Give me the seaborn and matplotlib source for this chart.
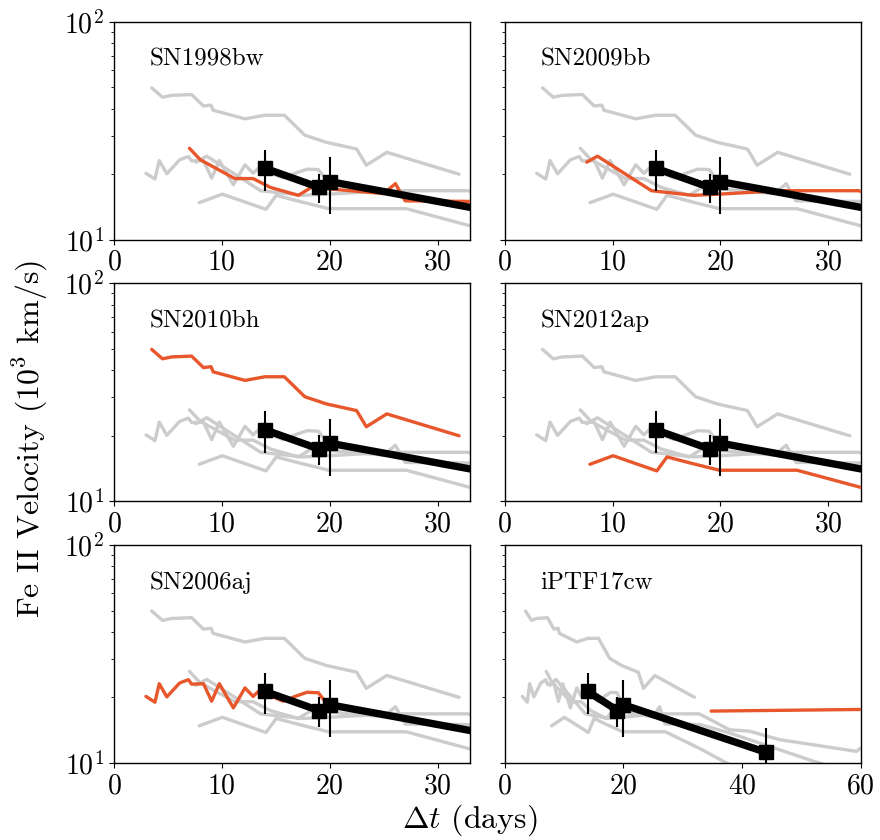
import numpy as np
import matplotlib
matplotlib.use("Agg")
import matplotlib.pyplot as plt
import matplotlib.ticker as mticker
import seaborn as sns
import pandas as pd

# comparison SNe: Fe II velocity (1e3 km/s) vs days
sn1998bw_t = [7.0, 8.0, 11.2, 12.9, 14.5, 17.1, 18.3, 25.0, 26.1, 27.0, 33.0, 38.0, 42.0, 52.0, 56.0]
sn1998bw_v = [26.3, 23.3, 19.1, 19.1, 17.4, 16.0, 17.4, 16.3, 18.1, 15.1, 15.0, 13.7, 12.6, 10.2, 9.5]

sn2009bb_t = [7.6, 8.6, 13.6, 17.5, 19.9, 25.5, 32.8, 37.9, 41.2, 46.3, 59.3, 60.0]
sn2009bb_v = [22.7, 24.2, 16.8, 16.0, 16.2, 16.8, 16.8, 14.2, 14.0, 12.8, 11.3, 11.7]

sn2010bh_t = [3.5, 4.5, 5.35, 7.2, 8.3, 9.0, 9.2, 12.15, 14.0, 15.8, 17.7, 19.7, 22.5, 23.4, 25.3, 32.0]
sn2010bh_v = [49.8, 45.1, 46.0, 46.4, 41.1, 41.5, 39.3, 35.9, 37.3, 37.3, 30.2, 28.0, 26.1, 22.0, 25.2, 20.0]

sn2012ap_t = [7.9, 10.05, 14.1, 15.05, 17.2, 19.9, 27.1, 33.0, 38.0]
sn2012ap_v = [14.8, 16.2, 13.8, 16.0, 15.0, 13.9, 13.9, 11.6, 9.8]

sn2006aj_t = [2.97, 3.8, 4.2, 4.9, 6.1, 6.9, 7.2, 8.3, 9.06, 9.77, 11.07, 12.15, 12.9, 13.4, 14.0,
              15.7, 16.8, 17.9, 18.95, 19.7]
sn2006aj_v = [20.2, 19.0, 23.1, 20.1, 23.3, 24.1, 23.0, 23.1, 19.2, 23.1, 17.9, 22.1, 20.2, 21.3, 20.8,
              19.2, 20.2, 21.1, 21.0, 18.8]

iptf17cw_t = [34.8, 60.0]
iptf17cw_v = [17.3, 17.6]

# the object measured here
obj_t = [14, 19, 20, 44]
obj_v = [21.3, 17.4, 18.5, 11.2]
obj_err = [4.6, 2.7, 5.4, 3.3]

names = ["SN1998bw", "SN2009bb", "SN2010bh", "SN2012ap", "SN2006aj", "iPTF17cw"]
curves = {
    "SN1998bw": (sn1998bw_t, sn1998bw_v),
    "SN2009bb": (sn2009bb_t, sn2009bb_v),
    "SN2010bh": (sn2010bh_t, sn2010bh_v),
    "SN2012ap": (sn2012ap_t, sn2012ap_v),
    "SN2006aj": (sn2006aj_t, sn2006aj_v),
    "iPTF17cw": (iptf17cw_t, iptf17cw_v),
}
df = pd.concat([pd.DataFrame({"t": t, "v": v, "sn": n}) for n, (t, v) in curves.items()],
               ignore_index=True)

sns.set_style("ticks", rc={"axes.edgecolor": "black", "xtick.color": "black",
                           "ytick.color": "black", "text.color": "black",
                           "axes.labelcolor": "black"})
plt.rcParams["font.family"] = ["cmr10", "DejaVu Serif"]
plt.rcParams["mathtext.fontset"] = "cm"
plt.rcParams["axes.formatter.use_mathtext"] = True

orange = "#e8572b"
gray = "#cccccc"

fig, axes = plt.subplots(3, 2, figsize=(8.8, 8.4), dpi=100)
plt.subplots_adjust(left=0.1295, right=0.978, top=0.974, bottom=0.0917, wspace=0.098, hspace=0.2)

for i, (ax, name) in enumerate(zip(axes.flat, names)):
    for n in names:
        sub = df[df["sn"] == n]
        hl = n == name
        sns.lineplot(data=sub, x="t", y="v", ax=ax, color=orange if hl else gray,
                     lw=2.4, estimator=None, sort=False, zorder=3 if hl else 2)
    sns.lineplot(x=obj_t, y=obj_v, ax=ax, color="k", lw=5.3, marker="s", markersize=10.5,
                 markeredgecolor="k", markeredgewidth=1, estimator=None, sort=False, zorder=5)
    ax.errorbar(obj_t, obj_v, yerr=obj_err, fmt="none", ecolor="k", elinewidth=1.5, zorder=6)

    ax.set_yscale("log")
    ax.set_ylim(10, 100)
    ax.yaxis.set_minor_formatter(mticker.NullFormatter())
    if i == 5:
        ax.set_xlim(0, 60)
        ax.set_xticks([0, 20, 40, 60])
    else:
        ax.set_xlim(0, 33)
        ax.set_xticks([0, 10, 20, 30])
    if i % 2 == 1:
        ax.tick_params(axis="y", labelleft=False)
    ax.tick_params(labelsize=20)
    ax.set_xlabel("")
    ax.set_ylabel("")
    ax.text(0.1, 0.80, name, transform=ax.transAxes, fontsize=18, va="baseline")
    for sp in ax.spines.values():
        sp.set_linewidth(1.0)

fig.text(0.035, 0.477, r"Fe II Velocity (10$^3$ km/s)", rotation=90, fontsize=23,
         ha="center", va="center")
fig.text(0.534, 0.024, r"$\Delta t$ (days)", fontsize=23, ha="center", va="center")

fig.savefig("out.png", dpi=100)
